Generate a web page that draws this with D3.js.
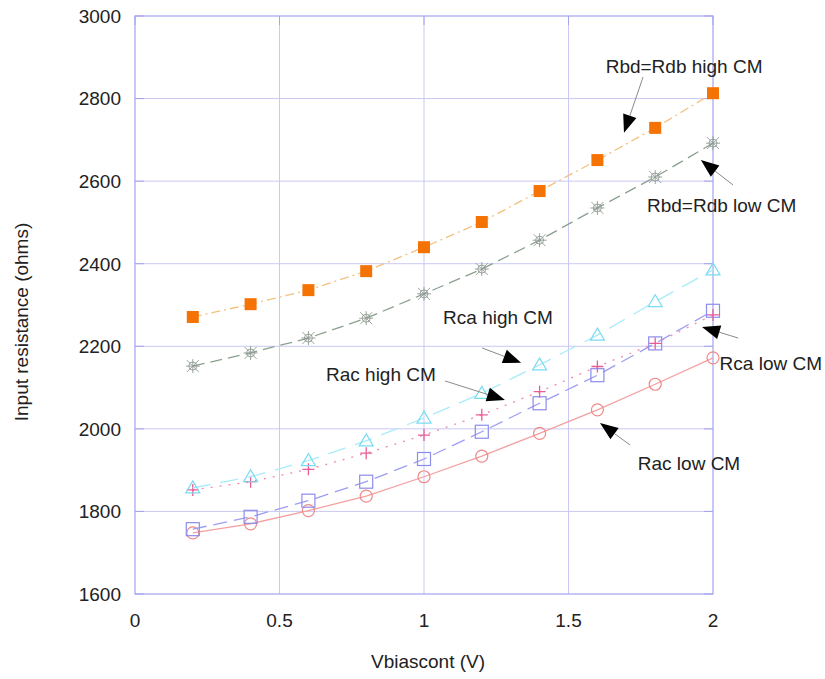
<!DOCTYPE html>
<html>
<head>
<meta charset="utf-8">
<script src="https://cdn.jsdelivr.net/npm/d3@7/dist/d3.min.js"></script>
<style>
  body { margin: 0; background: #fff; }
  text { font-family: "Liberation Sans", Arial, sans-serif; fill: #222; }
</style>
</head>
<body>
<div id="chart"></div>
<script>
// data
const vbias = [0.2, 0.4, 0.6, 0.8, 1.0, 1.2, 1.4, 1.6, 1.8, 2.0];
const rbdHigh = [2271, 2302, 2336, 2382, 2440, 2501, 2576, 2651, 2729, 2813];
const rbdLow  = [2152, 2184, 2220, 2268, 2327, 2387, 2457, 2535, 2610, 2692];
const rcaHigh = [1857, 1884, 1923, 1971, 2026, 2086, 2155, 2227, 2308, 2385];
const racHigh = [1852, 1872, 1902, 1941, 1985, 2034, 2090, 2151, 2207, 2276];
const rcaLow  = [1757, 1787, 1826, 1872, 1927, 1993, 2062, 2130, 2207, 2286];
const racLow  = [1748, 1770, 1802, 1837, 1884, 1934, 1989, 2046, 2108, 2172];
const xTicks = [0, 0.5, 1, 1.5, 2];
const yTicks = [1600, 1800, 2000, 2200, 2400, 2600, 2800, 3000];

// callouts: label, label position, arrow start, arrow tip (data units)
const notes = [
  { text: "Rbd=Rdb high CM", at: [1.90, 2879], from: [1.758, 2852], to: [1.692, 2717] },
  { text: "Rbd=Rdb low CM",  at: [2.03, 2542], from: [2.069, 2591], to: [1.958, 2651] },
  { text: "Rca high CM",     at: [1.256, 2271], from: [1.201, 2196], to: [1.336, 2160] },
  { text: "Rac high CM",     at: [0.851, 2133], from: [1.073, 2116], to: [1.280, 2070] },
  { text: "Rca low CM",      at: [2.20, 2160], from: [2.087, 2220], to: [1.962, 2247] },
  { text: "Rac low CM",      at: [1.917, 1917], from: [1.713, 1961], to: [1.609, 2014] }
];

const width = 825, height = 679;
const x = d3.scaleLinear().domain([0, 2]).range([135, 713]);
const y = d3.scaleLinear().domain([1600, 3000]).range([594, 16]);
const fs = "19px";

const svg = d3.select("#chart").append("svg")
  .attr("width", width).attr("height", height);

// grid
const gridCol = "#c9c9f3", frameCol = "#a3a3ef";
svg.append("g").selectAll("line").data(xTicks.slice(1, -1)).enter().append("line")
  .attr("x1", d => x(d)).attr("x2", d => x(d)).attr("y1", y(3000)).attr("y2", y(1600))
  .attr("stroke", gridCol).attr("stroke-width", 1);
svg.append("g").selectAll("line").data(yTicks.slice(1, -1)).enter().append("line")
  .attr("x1", x(0)).attr("x2", x(2)).attr("y1", d => y(d)).attr("y2", d => y(d))
  .attr("stroke", gridCol).attr("stroke-width", 1);
// inner tick marks
svg.append("g").selectAll("line").data(yTicks).enter().append("line")
  .attr("x1", x(0)).attr("x2", x(0) + 9).attr("y1", d => y(d)).attr("y2", d => y(d))
  .attr("stroke", frameCol);
svg.append("g").selectAll("line").data(yTicks).enter().append("line")
  .attr("x1", x(2) - 9).attr("x2", x(2)).attr("y1", d => y(d)).attr("y2", d => y(d))
  .attr("stroke", frameCol);
svg.append("g").selectAll("line").data(xTicks).enter().append("line")
  .attr("x1", d => x(d)).attr("x2", d => x(d)).attr("y1", y(3000)).attr("y2", y(3000) + 9)
  .attr("stroke", frameCol);
svg.append("rect")
  .attr("x", x(0)).attr("y", y(3000))
  .attr("width", x(2) - x(0)).attr("height", y(1600) - y(3000))
  .attr("fill", "none").attr("stroke", frameCol).attr("stroke-width", 1.2);

// axis labels
svg.append("g").selectAll("text").data(yTicks).enter().append("text")
  .attr("x", 121).attr("y", d => y(d)).attr("dy", "0.36em")
  .attr("text-anchor", "end").style("font-size", fs)
  .text(d => d);
svg.append("g").selectAll("text").data(xTicks).enter().append("text")
  .attr("x", d => x(d)).attr("y", 627)
  .attr("text-anchor", "middle").style("font-size", fs)
  .text(d => d);
svg.append("text")
  .attr("x", 428).attr("y", 668)
  .attr("text-anchor", "middle").style("font-size", fs)
  .text("Vbiascont (V)");
svg.append("text")
  .attr("transform", "translate(28,322) rotate(-90)")
  .attr("text-anchor", "middle").style("font-size", fs)
  .text("Input resistance (ohms)");

// series
const series = [
  { vals: racLow,  line: "#f4a0a0", dash: null,       mark: "circle",   mcol: "#f08888" },
  { vals: rcaLow,  line: "#9d9df2", dash: "14,7",     mark: "square",   mcol: "#8c8cec" },
  { vals: racHigh, line: "#f088b0", dash: "2,7",      mark: "plus",     mcol: "#ea5c96" },
  { vals: rcaHigh, line: "#a8ecfa", dash: "18,10",    mark: "triangle", mcol: "#78dcf2" },
  { vals: rbdLow,  line: "#8aa08e", dash: "12,6",     mark: "star",     mcol: "#8f9a92" },
  { vals: rbdHigh, line: "#f4c080", dash: "9,4,2,4",  mark: "fsquare",  mcol: "#f57304" }
];

const lineGen = d3.line().x((d, i) => x(vbias[i])).y(d => y(d));

series.forEach(s => {
  svg.append("path").datum(s.vals)
    .attr("d", lineGen)
    .attr("fill", "none").attr("stroke", s.line).attr("stroke-width", 1.3)
    .attr("stroke-dasharray", s.dash);

  const g = svg.append("g");
  const pts = g.selectAll("g").data(s.vals).enter().append("g")
    .attr("transform", (d, i) => "translate(" + x(vbias[i]) + "," + y(d) + ")");
  if (s.mark === "circle") {
    pts.append("circle").attr("r", 6).attr("fill", "none").attr("stroke", s.mcol).attr("stroke-width", 1.2);
  } else if (s.mark === "square") {
    pts.append("rect").attr("x", -6.5).attr("y", -6.5).attr("width", 13).attr("height", 13)
      .attr("fill", "none").attr("stroke", s.mcol).attr("stroke-width", 1.2);
  } else if (s.mark === "fsquare") {
    pts.append("rect").attr("x", -6).attr("y", -6).attr("width", 12).attr("height", 12)
      .attr("fill", s.mcol);
  } else if (s.mark === "plus") {
    pts.append("path").attr("d", "M-6,0H6M0,-6V6")
      .attr("stroke", s.mcol).attr("stroke-width", 1.3);
  } else if (s.mark === "triangle") {
    pts.append("path").attr("d", "M0,-7L7,5H-7Z")
      .attr("fill", "none").attr("stroke", s.mcol).attr("stroke-width", 1.2);
  } else if (s.mark === "star") {
    pts.append("path").attr("d", "M-6,-6L6,6M-6,6L6,-6M0,-7V7M-7,0H7")
      .attr("stroke", s.mcol).attr("stroke-width", 0.9);
    pts.append("circle").attr("r", 4).attr("fill", "none").attr("stroke", s.mcol).attr("stroke-width", 0.9);
  }
});

// callouts
notes.forEach(n => {
  const x1 = x(n.from[0]), y1 = y(n.from[1]), x2 = x(n.to[0]), y2 = y(n.to[1]);
  const ang = Math.atan2(y2 - y1, x2 - x1);
  const L = 18, W = 7;
  const bx = x2 - L * Math.cos(ang), by = y2 - L * Math.sin(ang);
  svg.append("line")
    .attr("x1", x1).attr("y1", y1).attr("x2", bx).attr("y2", by)
    .attr("stroke", "#8a8a8a").attr("stroke-width", 1);
  const px = -Math.sin(ang) * W, py = Math.cos(ang) * W;
  svg.append("path")
    .attr("d", "M" + x2 + "," + y2 + "L" + (bx + px) + "," + (by + py) + "L" + (bx - px) + "," + (by - py) + "Z")
    .attr("fill", "#000");
  svg.append("text")
    .attr("x", x(n.at[0])).attr("y", y(n.at[1])).attr("dy", "0.36em")
    .attr("text-anchor", "middle").style("font-size", fs)
    .text(n.text);
});
</script>
</body>
</html>
